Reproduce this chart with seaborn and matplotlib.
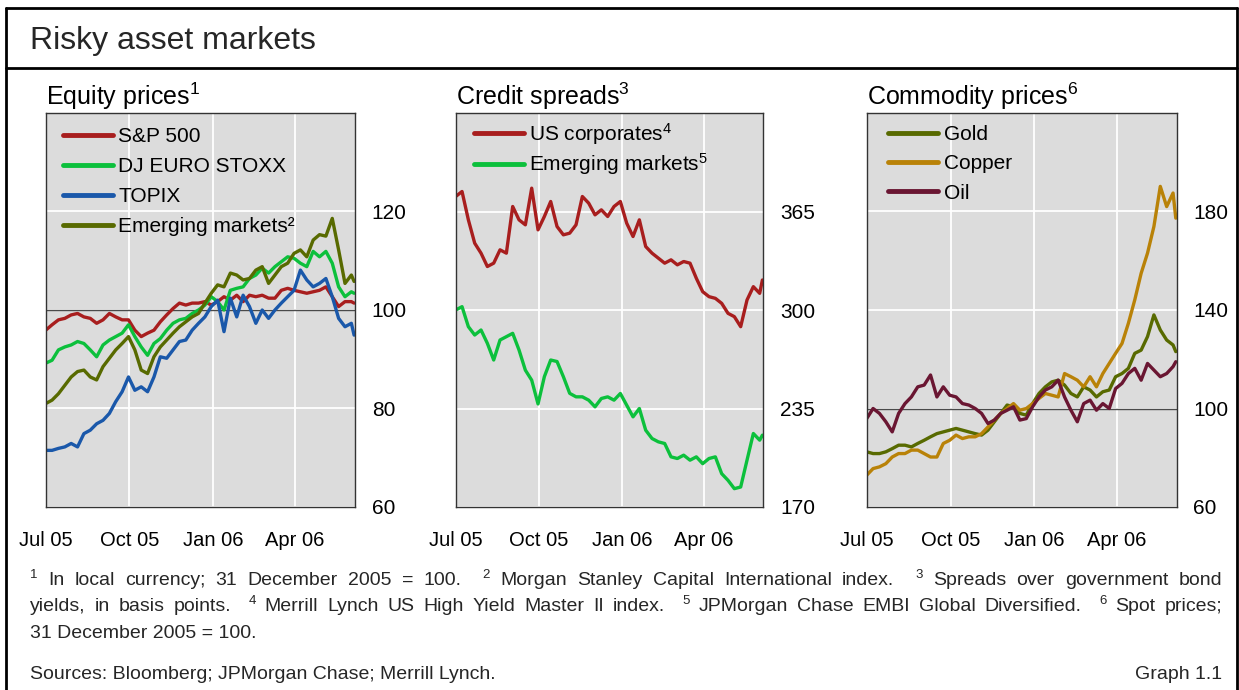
import numpy as np
import pandas as pd
import matplotlib
matplotlib.use("Agg")
import matplotlib.pyplot as plt
import matplotlib.lines as mlines
import seaborn as sns

# ---------------- data ----------------
dates = list(pd.date_range("2005-07-01", periods=49, freq="7D")) + [pd.Timestamp("2006-06-05")]

sp500 = [95.9, 97.0, 98.0, 98.3, 99.0, 99.3, 98.6, 98.3, 97.3, 98.0,
         99.3, 98.6, 98.0, 98.0, 95.9, 94.6, 95.3, 95.9, 97.6, 99.0,
         100.3, 101.4, 101.0, 101.4, 101.4, 101.7, 101.0, 101.7, 102.7, 102.0,
         103.0, 101.7, 103.0, 102.7, 103.0, 102.4, 102.4, 104.0, 104.4, 104.0,
         103.7, 103.4, 103.7, 104.0, 104.7, 102.7, 100.7, 101.7, 101.7, 101.4]
euro_stoxx = [89.2, 89.8, 91.9, 92.5, 92.9, 93.6, 93.2, 91.9, 90.5, 92.9,
              93.9, 94.6, 95.3, 97.0, 94.6, 92.5, 90.8, 93.2, 94.2, 95.9,
              97.3, 98.0, 98.3, 99.3, 100.0, 101.0, 102.7, 101.7, 100.0, 104.0,
              104.4, 104.7, 106.4, 107.1, 108.5, 107.5, 108.8, 109.8, 110.8, 110.5,
              109.5, 108.8, 111.9, 110.8, 111.9, 109.5, 104.7, 102.7, 103.7, 103.4]
topix = [71.5, 71.5, 71.9, 72.2, 72.9, 72.2, 74.9, 75.6, 76.9, 77.6,
         79.0, 81.4, 83.4, 86.4, 83.7, 84.4, 83.4, 86.4, 90.5, 90.2,
         91.9, 93.6, 93.9, 95.9, 97.3, 98.6, 100.7, 102.0, 95.6, 102.4,
         98.6, 103.0, 100.7, 97.3, 100.0, 98.3, 100.0, 101.4, 102.7, 104.0,
         108.1, 106.1, 104.7, 105.4, 106.4, 102.7, 98.3, 96.6, 97.3, 94.9]
em_equity = [81.0, 81.7, 83.0, 84.7, 86.4, 87.5, 87.8, 86.4, 85.8, 88.5,
             90.2, 91.9, 93.2, 94.6, 91.9, 87.8, 87.1, 90.5, 92.5, 93.9,
             95.3, 96.6, 97.6, 98.6, 99.3, 101.4, 103.4, 105.1, 104.7, 107.5,
             107.1, 106.1, 106.4, 108.1, 108.8, 105.4, 107.1, 108.8, 109.5, 111.5,
             112.2, 110.8, 114.2, 115.3, 115.0, 118.6, 112.2, 105.4, 107.1, 105.8]

us_corp = [374.9, 378.2, 359.5, 344.1, 337.5, 328.7, 330.9, 339.7, 337.5, 368.3,
           359.5, 356.2, 380.4, 352.9, 361.7, 371.6, 355.1, 349.6, 350.7, 356.2,
           374.9, 370.5, 362.8, 366.1, 361.7, 368.3, 371.6, 357.3, 348.5, 359.5,
           341.9, 337.5, 334.2, 330.9, 333.1, 329.8, 332.0, 330.9, 320.9, 312.1,
           308.8, 307.7, 304.4, 297.8, 295.6, 289.0, 306.6, 315.4, 311.0, 319.8]
em_spread = [300.0, 302.2, 289.0, 283.5, 286.8, 278.0, 267.0, 280.2, 282.4, 284.6,
             273.6, 260.3, 253.7, 238.0, 256.0, 267.0, 266.0, 256.0, 245.0, 242.7,
             242.7, 240.5, 236.1, 241.6, 242.7, 240.5, 244.9, 237.2, 229.5, 235.0,
             220.7, 215.2, 213.0, 211.9, 203.1, 202.0, 204.2, 200.9, 203.1, 198.6,
             202.0, 203.1, 192.0, 187.6, 182.1, 183.2, 200.9, 218.5, 214.1, 217.4]

gold = [82.4, 81.7, 81.7, 82.4, 83.7, 85.1, 85.1, 84.4, 85.8, 87.1,
        88.5, 89.8, 90.5, 91.2, 91.9, 91.2, 90.5, 89.8, 89.2, 91.2,
        94.6, 98.0, 101.4, 100.7, 98.0, 97.3, 102.0, 106.1, 108.8, 110.8,
        111.5, 109.5, 106.1, 104.7, 108.8, 107.5, 104.7, 106.8, 107.5, 112.9,
        114.2, 116.3, 122.4, 123.7, 129.2, 138.0, 131.9, 127.8, 125.8, 123.1]
copper = [72.9, 75.6, 76.3, 77.6, 80.3, 81.7, 81.7, 83.1, 83.1, 81.7,
          80.3, 80.3, 85.8, 87.1, 89.2, 87.8, 88.5, 88.5, 89.8, 92.5,
          95.3, 98.0, 100.0, 102.0, 99.3, 100.0, 102.0, 104.1, 106.1, 105.4,
          104.7, 114.2, 112.9, 111.5, 108.8, 112.9, 108.8, 114.2, 118.3, 122.4,
          126.4, 134.6, 144.1, 154.9, 163.1, 173.9, 190.2, 182.0, 187.5, 177.3]
oil = [95.9, 100.0, 98.0, 94.6, 90.5, 98.0, 102.0, 104.7, 108.8, 109.5,
       113.6, 104.7, 108.8, 105.4, 104.7, 102.0, 101.4, 100.0, 98.0, 93.9,
       95.3, 98.0, 99.3, 100.7, 95.3, 95.9, 100.7, 104.7, 107.5, 108.8,
       111.5, 104.7, 99.3, 94.6, 102.0, 103.4, 99.3, 102.0, 100.0, 108.1,
       110.2, 114.2, 116.3, 111.5, 118.3, 115.6, 112.9, 114.2, 117.0, 119.0]

tick_dates = ["2005-07-01", "2005-10-01", "2006-01-01", "2006-04-01"]
tick_labels = ["Jul 05", "Oct 05", "Jan 06", "Apr 06"]

# ---------------- style ----------------
sns.set_style("white")
plt.rcParams["font.family"] = ["Liberation Sans", "DejaVu Sans"]
plt.rcParams["mathtext.fontset"] = "custom"
plt.rcParams["mathtext.rm"] = "Liberation Sans"
plt.rcParams["mathtext.it"] = "Liberation Sans"
plt.rcParams["mathtext.default"] = "regular"

W, H = 1239, 690
fig = plt.figure(figsize=(W / 100, H / 100), dpi=100)


def fx(px):
    return px / W


def fy(py):
    return 1 - py / H


RED = "#A81E1E"
GREEN = "#0CC03C"
BLUE = "#1A58AA"
OLIVE = "#586A00"
COPPER = "#B98208"
OIL = "#6A1632"
BG = "#DCDCDC"

panels = [
    dict(left=45.7, right=355.0, title="Equity prices$^1$",
         names=["S&P 500", "DJ EURO STOXX", "TOPIX", "Emerging markets²"],
         values=[sp500, euro_stoxx, topix, em_equity],
         colors=[RED, GREEN, BLUE, OLIVE],
         ylim=(60, 140), yticks=[60, 80, 100, 120], ref=100,
         leg_xy=(0.056, 0.9645), leg_sp=0.53),
    dict(left=455.7, right=763.3, title="Credit spreads$^3$",
         names=["US corporates$^4$", "Emerging markets$^5$"],
         values=[us_corp, em_spread],
         colors=[RED, GREEN],
         ylim=(170, 430), yticks=[170, 235, 300, 365], ref=None,
         leg_xy=(0.060, 0.980), leg_sp=0.23),
    dict(left=866.7, right=1176.7, title="Commodity prices$^6$",
         names=["Gold", "Copper", "Oil"],
         values=[gold, copper, oil],
         colors=[OLIVE, COPPER, OIL],
         ylim=(60, 220), yticks=[60, 100, 140, 180], ref=100,
         leg_xy=(0.070, 0.970), leg_sp=0.50),
]

ax_top, ax_bot = 113.0, 507.0
xlim = (pd.Timestamp("2005-07-01"), pd.Timestamp("2006-06-06"))

for p in panels:
    ax = fig.add_axes([fx(p["left"]), fy(ax_bot), fx(p["right"] - p["left"]),
                       (ax_bot - ax_top) / H])
    ax.set_facecolor(BG)
    frames = []
    for name, vals in zip(p["names"], p["values"]):
        frames.append(pd.DataFrame({"date": dates, "value": vals, "series": name}))
    df = pd.concat(frames, ignore_index=True)
    sns.lineplot(data=df, x="date", y="value", hue="series", hue_order=p["names"],
                 palette=dict(zip(p["names"], p["colors"])), linewidth=2.4,
                 ax=ax, legend=True, zorder=3)
    ax.set_xlim(*xlim)
    ax.set_ylim(*p["ylim"])
    ax.set_yticks(p["yticks"])
    ax.set_yticklabels([str(v) for v in p["yticks"]])
    ax.set_xticks([pd.Timestamp(d) for d in tick_dates])
    ax.set_xticklabels(tick_labels)
    ax.set_xlabel("")
    ax.set_ylabel("")
    ax.set_axisbelow(True)
    ax.grid(True, color="white", linewidth=1.3, zorder=0.5)
    if p["ref"] is not None:
        ax.axhline(p["ref"], color="#4a4a4a", linewidth=1.0, zorder=1.5)
    ax.tick_params(axis="y", which="both", left=False, right=True, labelleft=False,
                   labelright=True, length=0, pad=12, labelsize=15, colors="black")
    ax.tick_params(axis="x", length=0, pad=17, labelsize=14.5, colors="black")
    for s in ax.spines.values():
        s.set_visible(True)
        s.set_color("#333333")
        s.set_linewidth(1.0)
        s.set_zorder(4)
    h, l = ax.get_legend_handles_labels()
    leg = ax.legend(h, l, loc="upper left", bbox_to_anchor=p["leg_xy"],
                    frameon=False, fontsize=15, handlelength=2.4,
                    handletextpad=0.25, labelspacing=p["leg_sp"], borderpad=0,
                    borderaxespad=0)
    for ln in leg.get_lines():
        ln.set_linewidth(3.5)
    for t in leg.get_texts():
        t.set_color("black")
    fig.text(fx(p["left"]), fy(105), p["title"], fontsize=18, ha="left",
             va="baseline", color="black")

# ---------------- frame and titles ----------------
lw_frame = 2.0
fig.add_artist(mlines.Line2D([fx(5.5), fx(5.5)], [fy(7.5), fy(700)], color="black", lw=lw_frame))
fig.add_artist(mlines.Line2D([fx(1237), fx(1237)], [fy(7.5), fy(700)], color="black", lw=lw_frame))
fig.add_artist(mlines.Line2D([fx(5.5), fx(1237)], [fy(7.5), fy(7.5)], color="black", lw=lw_frame))
fig.add_artist(mlines.Line2D([fx(5.5), fx(1237)], [fy(68), fy(68)], color="black", lw=lw_frame))

fig.text(fx(30), fy(49), "Risky asset markets", fontsize=23, ha="left", va="baseline")

# ---------------- footnotes (justified) ----------------
FOOT = 14
SUP = 9.5
fig.canvas.draw()
renderer = fig.canvas.get_renderer()


def justified(tokens, base_px, x0=30, x1=1222):
    arts = []
    for tok in tokens:
        if isinstance(tok, tuple):
            t = fig.text(0, fy(base_px - 7), tok[0], fontsize=SUP, ha="left", va="baseline")
            arts.append((t, True))
        else:
            t = fig.text(0, fy(base_px), tok, fontsize=FOOT, ha="left", va="baseline")
            arts.append((t, False))
    widths = [a.get_window_extent(renderer=renderer).width for a, _ in arts]
    weights = [2.0 if arts[i][1] else 1.0 for i in range(1, len(arts))]
    unit = (x1 - x0 - sum(widths)) / sum(weights)
    x = x0
    for i, (a, _) in enumerate(arts):
        a.set_x(fx(x))
        if i < len(weights):
            x += widths[i] + unit * weights[i]


line1 = [("1",), "In", "local", "currency;", "31", "December", "2005", "=", "100.",
         ("2",), "Morgan", "Stanley", "Capital", "International", "index.",
         ("3",), "Spreads", "over", "government", "bond"]
line2 = ["yields,", "in", "basis", "points.", ("4",), "Merrill", "Lynch", "US", "High",
         "Yield", "Master", "II", "index.", ("5",), "JPMorgan", "Chase", "EMBI", "Global",
         "Diversified.", ("6",), "Spot", "prices;"]
justified(line1, 585)
justified(line2, 611)
fig.text(fx(30), fy(638), "31 December 2005 = 100.", fontsize=FOOT, ha="left", va="baseline")

fig.text(fx(30), fy(679), "Sources: Bloomberg; JPMorgan Chase; Merrill Lynch.",
         fontsize=FOOT, ha="left", va="baseline")
fig.text(fx(1222), fy(679), "Graph 1.1", fontsize=FOOT, ha="right", va="baseline")

fig.savefig("out.png", dpi=100, facecolor="white")
